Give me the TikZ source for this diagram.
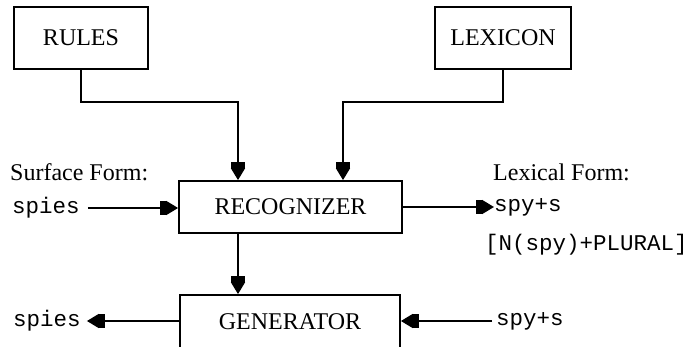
\documentclass[tikz,border=0pt]{standalone}
\usepackage{fontspec}
\setmainfont{Liberation Serif}
\setmonofont{Liberation Mono}
\usetikzlibrary{arrows.meta}
\begin{document}
\begin{tikzpicture}[x=1pt,y=-1pt,
  box/.style={draw,line width=1.8pt,rectangle,inner sep=0pt,font=\fontsize{24}{26}\selectfont},
  lbl/.style={inner sep=0pt,anchor=west,font=\fontsize{24}{26}\selectfont},
  mono/.style={inner sep=0pt,anchor=west,font=\ttfamily\fontsize{22.5}{24}\selectfont},
  arr/.style={line width=1.8pt,-{Rectangle[length=6pt,width=14pt,sep=0pt]Triangle[length=12pt,width=14pt,sep=0pt]}}]
\useasboundingbox (0,0) rectangle (688,347);
\node[box,minimum width=134pt,minimum height=62pt] (rules) at (81,38) {RULES};
\node[box,minimum width=136pt,minimum height=62pt] (lex) at (503,38) {LEXICON};
\node[box,minimum width=223pt,minimum height=52pt] (recog) at (290.5,207) {RECOGNIZER};
\node[box,minimum width=220pt,minimum height=56pt,text depth=0pt] (gen) at (290,323) {\raisebox{3pt}{GENERATOR}};
\node[lbl] (surf) at (10,172) {Surface Form:};
\node[lbl] (lexf) at (493,172) {Lexical Form:};
\node[mono] (spiesin) at (12,208) {spies};
\node[mono] (spyout) at (494,207) {spy+s};
\node[mono] (plural) at (485,245) {[N(spy)+PLURAL]};
\node[mono] (spiesout) at (13,321) {spies};
\node[mono] (spyin) at (496,321) {spy+s};
\draw[arr] (rules.south) -- ++(0,32) -| ([xshift=-52.5pt]recog.north);
\draw[arr] (lex.south) -- ++(0,32) -| ([xshift=52.5pt]recog.north);
\draw[arr] ([xshift=-52.5pt]recog.south) -- ([xshift=-52.5pt]recog.south |- gen.north);
\draw[arr] ([xshift=8pt]spiesin.east) -- (recog.west |- spiesin.east);
\draw[arr] (recog.east) -- (spyout.west |- recog.east);
\draw[arr] (gen.west |- spiesout.east) -- ([xshift=6pt]spiesout.east);
\draw[arr] ([xshift=-4pt]spyin.west) -- (gen.east |- spyin.west);
\end{tikzpicture}
\end{document}
